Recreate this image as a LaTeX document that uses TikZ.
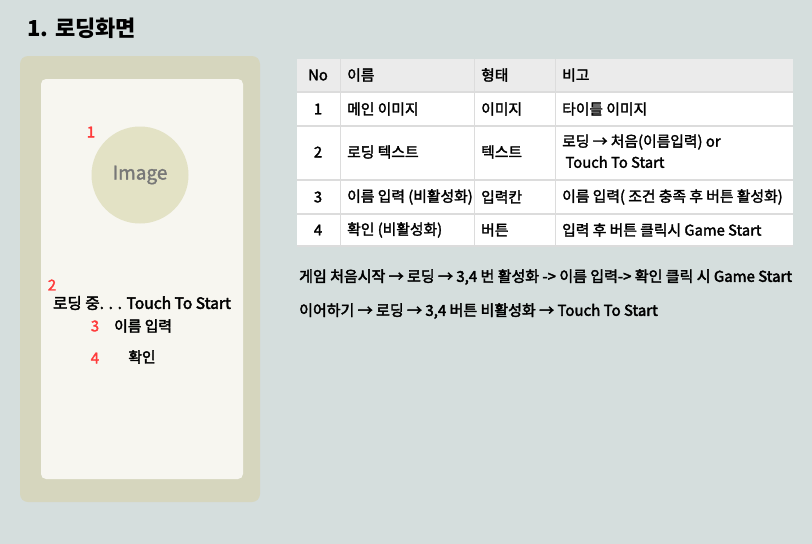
\documentclass[tikz,border=0pt]{standalone}
\usepackage{fontspec}
\setmainfont{Noto Sans CJK KR}
\definecolor{bg}{HTML}{D5DEDD}
\definecolor{panel}{HTML}{D6D6BE}
\definecolor{inner}{HTML}{F7F6F0}
\definecolor{circ}{HTML}{E3E2C5}
\definecolor{hdr}{HTML}{EBEBEB}
\definecolor{gridc}{HTML}{DCDCDC}
\definecolor{redn}{HTML}{FF3B3B}
\definecolor{imgtxt}{HTML}{777777}
\newcommand{\thk}[1]{\special{pdf:literal direct 2 Tr 0.3 w}#1\special{pdf:literal direct 0 Tr}}
\newcommand{\thkb}[1]{\special{pdf:literal direct 2 Tr 0.4 w}#1\special{pdf:literal direct 0 Tr}}
\begin{document}
\begin{tikzpicture}[x=1pt,y=-1pt,
  txt/.style={inner sep=0pt,font=\fontsize{14.8}{16}\selectfont,text=black},
  cell/.style={txt,anchor=west},
  num/.style={inner sep=0pt,font=\fontsize{15}{16}\selectfont,text=redn},
  line/.style={txt,anchor=west,font=\fontsize{15}{16}\selectfont}]
\fill[bg] (0,0) rectangle (812,544);
\useasboundingbox (0,0) rectangle (812,544);
\node[inner sep=0pt,anchor=west,font=\fontsize{22}{26}\selectfont\bfseries] (title) at (27,28) {1. 로딩화면};
% phone mock
\fill[panel,rounded corners=8pt] (20,56) rectangle (260,502);
\fill[inner,rounded corners=5pt] (41,79) rectangle (243,479);
\node[circle,fill=circ,minimum size=97pt,inner sep=0pt] (img) at (140,175) {};
\node[inner sep=0pt,font=\fontsize{19}{20}\selectfont,text=imgtxt] (imgt) at (140,175) {\thk{Image}};
\node[num] (n1) at (91,132) {\thk{1}};
\node[num] (n2) at (52,285) {\thk{2}};
\node[txt,font=\fontsize{15.6}{17}\selectfont] (load) at (142,303) {\thkb{로딩 중. . . Touch To Start}};
\node[num] (n3) at (95,326) {\thk{3}};
\node[txt,anchor=west] (name) at (114,326) {\thkb{이름 입력}};
\node[num] (n4) at (95,358) {\thk{4}};
\node[txt] (ok) at (142,357) {\thkb{확인}};
% table
\fill[white] (297,59) rectangle (793,246);
\fill[hdr] (297,59) rectangle (793,92);
\foreach \y in {92,126,180,214,246} \draw[gridc,line width=1.5pt] (297,\y) -- (793,\y);
\foreach \x in {340,474,555} \draw[gridc,line width=1pt] (\x,59) -- (\x,246);
\node[txt] (h1) at (318,75) {\thk{No}};
\node[cell] (h2) at (347,75) {\thk{이름}};
\node[cell] (h3) at (481,75) {\thk{형태}};
\node[cell] (h4) at (562,75) {\thk{비고}};
\node[txt] (r1a) at (318,109) {\thk{1}};
\node[cell] (r1b) at (347,109) {\thk{메인 이미지}};
\node[cell] (r1c) at (481,109) {\thk{이미지}};
\node[cell] (r1d) at (562,109) {\thk{타이틀 이미지}};
\node[txt] (r2a) at (318,152) {\thk{2}};
\node[cell] (r2b) at (347,152) {\thk{로딩 텍스트}};
\node[cell] (r2c) at (481,152) {\thk{텍스트}};
\node[cell] (r2d) at (562,142) {\thk{로딩 → 처음(이름입력) or}};
\node[cell] (r2e) at (562,162) {\thk{\ Touch To Start}};
\node[txt] (r3a) at (318,197) {\thk{3}};
\node[cell] (r3b) at (347,197) {\thk{이름 입력 (비활성화)}};
\node[cell] (r3c) at (481,197) {\thk{입력칸}};
\node[cell] (r3d) at (562,197) {\thk{이름 입력( 조건 충족 후 버튼 활성화)}};
\node[txt] (r4a) at (318,230) {\thk{4}};
\node[cell] (r4b) at (347,230) {\thk{확인 (비활성화)}};
\node[cell] (r4c) at (481,230) {\thk{버튼}};
\node[cell] (r4d) at (562,230) {\thk{입력 후 버튼 클릭시 Game Start}};
% notes
\node[line] (l1) at (299,277) {\thkb{게임 처음시작 → 로딩 → 3,4 번 활성화 -> 이름 입력-> 확인 클릭 시 Game Start}};
\node[line] (l2) at (299,311) {\thkb{이어하기 → 로딩 → 3,4 버튼 비활성화 → Touch To Start}};
\end{tikzpicture}
\end{document}
